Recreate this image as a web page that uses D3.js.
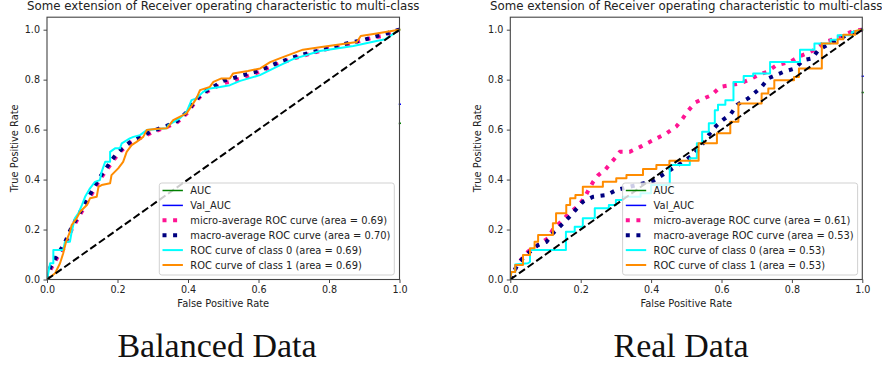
<!DOCTYPE html>
<html><head><meta charset="utf-8">
<script src="https://cdn.jsdelivr.net/npm/d3@7/dist/d3.min.js"></script>
<style>
body{margin:0;background:#fff}
svg{display:block}
text{font-family:"DejaVu Sans",sans-serif;fill:#222}
</style>
</head><body>
<svg id="c" width="882" height="365"></svg>
<script>
// ---------- text ----------
const titleText = "Some extension of Receiver operating characteristic to multi-class";
const xLabel = "False Positive Rate";
const yLabel = "True Positive Rate";
const captions = ["Balanced Data", "Real Data"];
const xTicks = [0, 0.2, 0.4, 0.6, 0.8, 1.0];
const yTicks = [0, 0.2, 0.4, 0.6, 0.8, 1.0];
const legendBalanced = ["AUC", "Val_AUC",
  "micro-average ROC curve (area = 0.69)", "macro-average ROC curve (area = 0.70)",
  "ROC curve of class 0 (area = 0.69)", "ROC curve of class 1 (area = 0.69)"];
const legendReal = ["AUC", "Val_AUC",
  "micro-average ROC curve (area = 0.61)", "macro-average ROC curve (area = 0.53)",
  "ROC curve of class 0 (area = 0.53)", "ROC curve of class 1 (area = 0.53)"];

// ---------- training AUC history (x = epoch) ----------
const epochs = [1, 2];
const balAuc = [0.625, 0.64];
const balValAuc = [0.702, 0.70];
const realAuc = [0.749, 0.75];
const realValAuc = [0.814, 0.81];

// ---------- ROC curves, [fpr, tpr] ----------
const balMicro = [[0,0],[0.01,0.04],[0.03,0.09],[0.05,0.13],[0.07,0.2],[0.09,0.25],[0.11,0.3],[0.13,0.35],[0.15,0.4],[0.17,0.44],[0.19,0.48],[0.21,0.515],[0.24,0.55],[0.27,0.57],[0.3,0.59],[0.34,0.61],[0.37,0.63],[0.4,0.67],[0.42,0.71],[0.44,0.74],[0.47,0.765],[0.5,0.785],[0.55,0.805],[0.6,0.83],[0.65,0.86],[0.7,0.885],[0.75,0.905],[0.8,0.925],[0.85,0.94],[0.9,0.96],[0.95,0.975],[1,1]];
const balMacro = [[0,0],[0.01,0.05],[0.03,0.1],[0.05,0.145],[0.07,0.21],[0.09,0.26],[0.11,0.31],[0.13,0.36],[0.15,0.41],[0.17,0.45],[0.19,0.49],[0.21,0.52],[0.24,0.555],[0.27,0.575],[0.3,0.595],[0.34,0.615],[0.37,0.635],[0.4,0.675],[0.42,0.715],[0.44,0.745],[0.47,0.77],[0.5,0.795],[0.55,0.815],[0.6,0.835],[0.65,0.865],[0.7,0.89],[0.75,0.91],[0.8,0.925],[0.85,0.945],[0.9,0.96],[0.95,0.98],[1,1]];
const balClass0 = [[0,0],[0.009,0.065],[0.018,0.065],[0.018,0.118],[0.046,0.118],[0.051,0.151],[0.065,0.151],[0.07,0.191],[0.079,0.245],[0.089,0.265],[0.099,0.298],[0.108,0.331],[0.122,0.365],[0.136,0.391],[0.15,0.398],[0.155,0.431],[0.165,0.471],[0.179,0.471],[0.179,0.511],[0.193,0.525],[0.207,0.525],[0.212,0.545],[0.235,0.565],[0.245,0.571],[0.264,0.578],[0.283,0.598],[0.339,0.605],[0.344,0.618],[0.377,0.645],[0.396,0.671],[0.41,0.718],[0.424,0.725],[0.443,0.751],[0.462,0.765],[0.491,0.771],[0.519,0.778],[0.548,0.795],[0.604,0.818],[0.65,0.85],[0.698,0.882],[0.774,0.915],[0.869,0.935],[0.935,0.955],[0.96,0.962],[1,1]];
const balClass1 = [[0,0],[0.023,0.025],[0.037,0.065],[0.046,0.105],[0.054,0.151],[0.065,0.191],[0.07,0.218],[0.084,0.245],[0.094,0.271],[0.113,0.298],[0.122,0.325],[0.141,0.331],[0.146,0.371],[0.155,0.378],[0.179,0.385],[0.183,0.418],[0.202,0.445],[0.216,0.471],[0.226,0.511],[0.24,0.538],[0.254,0.551],[0.273,0.571],[0.283,0.598],[0.306,0.602],[0.34,0.605],[0.358,0.638],[0.396,0.665],[0.41,0.695],[0.424,0.725],[0.434,0.758],[0.462,0.771],[0.472,0.791],[0.495,0.805],[0.519,0.805],[0.528,0.825],[0.57,0.835],[0.605,0.845],[0.633,0.87],[0.66,0.885],[0.726,0.92],[0.774,0.93],[0.879,0.951],[0.89,0.975],[0.935,0.985],[1,1]];

const realMicro = [[0,0],[0.022,0.065],[0.05,0.111],[0.08,0.14],[0.107,0.165],[0.121,0.2],[0.147,0.235],[0.164,0.262],[0.19,0.291],[0.21,0.325],[0.221,0.355],[0.235,0.39],[0.25,0.418],[0.27,0.44],[0.283,0.462],[0.3,0.49],[0.311,0.511],[0.339,0.511],[0.369,0.531],[0.406,0.558],[0.444,0.585],[0.472,0.613],[0.49,0.645],[0.505,0.675],[0.525,0.708],[0.55,0.725],[0.572,0.738],[0.596,0.771],[0.625,0.778],[0.652,0.785],[0.676,0.798],[0.704,0.818],[0.729,0.831],[0.757,0.858],[0.795,0.871],[0.818,0.891],[0.843,0.905],[0.862,0.918],[0.894,0.951],[0.92,0.962],[0.946,0.978],[0.975,0.995],[1,1]];
const realMacro = [[0,0],[0.022,0.065],[0.045,0.098],[0.079,0.138],[0.103,0.151],[0.121,0.185],[0.145,0.218],[0.168,0.251],[0.206,0.311],[0.235,0.331],[0.273,0.338],[0.301,0.358],[0.358,0.378],[0.406,0.395],[0.434,0.42],[0.462,0.445],[0.491,0.471],[0.52,0.5],[0.545,0.54],[0.567,0.585],[0.585,0.615],[0.605,0.64],[0.625,0.66],[0.645,0.7],[0.676,0.725],[0.714,0.771],[0.733,0.805],[0.776,0.831],[0.808,0.845],[0.833,0.878],[0.857,0.885],[0.875,0.918],[0.9,0.938],[0.927,0.958],[0.955,0.978],[1,1]];
const realClass0 = [[0,0],[0.003,0.03],[0.014,0.03],[0.014,0.06],[0.05,0.065],[0.056,0.071],[0.056,0.118],[0.158,0.118],[0.158,0.191],[0.183,0.191],[0.183,0.211],[0.206,0.211],[0.206,0.245],[0.24,0.245],[0.24,0.285],[0.28,0.285],[0.28,0.298],[0.3,0.298],[0.3,0.318],[0.32,0.318],[0.32,0.331],[0.37,0.331],[0.37,0.345],[0.4,0.345],[0.4,0.378],[0.453,0.378],[0.453,0.458],[0.51,0.458],[0.51,0.485],[0.53,0.485],[0.53,0.545],[0.545,0.545],[0.545,0.591],[0.564,0.591],[0.564,0.625],[0.581,0.625],[0.581,0.678],[0.59,0.678],[0.59,0.7],[0.611,0.7],[0.611,0.718],[0.634,0.718],[0.634,0.791],[0.663,0.791],[0.663,0.815],[0.69,0.815],[0.69,0.825],[0.738,0.825],[0.738,0.871],[0.823,0.871],[0.823,0.92],[0.864,0.92],[0.864,0.945],[0.91,0.945],[0.91,0.96],[0.93,0.96],[0.93,0.978],[0.97,0.978],[0.97,0.99],[1,1]];
const realClass1 = [[0,0],[0.003,0.03],[0.014,0.03],[0.014,0.058],[0.036,0.058],[0.036,0.098],[0.056,0.098],[0.056,0.125],[0.069,0.125],[0.069,0.151],[0.079,0.151],[0.079,0.178],[0.121,0.178],[0.121,0.225],[0.13,0.225],[0.13,0.265],[0.159,0.265],[0.159,0.298],[0.17,0.298],[0.17,0.325],[0.185,0.325],[0.185,0.338],[0.206,0.338],[0.206,0.371],[0.263,0.371],[0.263,0.391],[0.301,0.391],[0.301,0.405],[0.33,0.405],[0.33,0.418],[0.377,0.418],[0.377,0.442],[0.415,0.442],[0.415,0.458],[0.452,0.458],[0.452,0.475],[0.535,0.475],[0.535,0.545],[0.587,0.545],[0.587,0.585],[0.625,0.585],[0.625,0.631],[0.648,0.631],[0.648,0.705],[0.714,0.705],[0.714,0.745],[0.733,0.745],[0.733,0.765],[0.75,0.765],[0.75,0.798],[0.806,0.798],[0.806,0.811],[0.82,0.811],[0.82,0.845],[0.885,0.845],[0.885,0.945],[0.93,0.945],[0.93,0.962],[0.946,0.962],[0.946,0.98],[0.98,0.98],[0.98,0.995],[1,1]];
const diagonal = [[0,0],[1,1]];

// ---------- styles ----------
const styles = {
  auc:   {color:"#008000", width:1.5, dash:null},
  val:   {color:"#0000ff", width:1.5, dash:null},
  micro: {color:"#ff1493", width:4, dash:"4 6.6"},
  macro: {color:"#000080", width:4, dash:"4 6.6"},
  c0:    {color:"#00ffff", width:2, dash:null},
  c1:    {color:"#ff8c00", width:2, dash:null},
  diag:  {color:"#000000", width:2, dash:"7.4 3.2"}
};
const legendKeys = ["auc","val","micro","macro","c0","c1"];

const panels = [
  {x0:47, x1:399.5, capX:217, legend:legendBalanced,
   auc:balAuc, val:balValAuc, micro:balMicro, macro:balMacro, c0:balClass0, c1:balClass1},
  {x0:510.3, x1:862.3, capX:681, legend:legendReal,
   auc:realAuc, val:realValAuc, micro:realMicro, macro:realMacro, c0:realClass0, c1:realClass1}
];

const svg = d3.select("#c");
const yTop = 17.2, yBot = 279.5;
const fs = 9.9;

panels.forEach((p, i) => {
  const x = d3.scaleLinear().domain([0, 1]).range([p.x0, p.x1]);
  const y = d3.scaleLinear().domain([0, 1.05]).range([yBot, yTop]);
  const g = svg.append("g");
  const clipId = "clip" + i;
  svg.append("defs").append("clipPath").attr("id", clipId)
    .append("rect").attr("x", p.x0).attr("y", yTop).attr("width", p.x1 - p.x0 + 1.5).attr("height", yBot - yTop);

  const line = d3.line().x(d => x(d[0])).y(d => y(d[1]));
  const plot = g.append("g").attr("clip-path", `url(#${clipId})`);

  function draw(data, st) {
    const path = plot.append("path").datum(data).attr("d", line)
      .attr("fill", "none").attr("stroke", st.color).attr("stroke-width", st.width)
      .attr("stroke-linejoin", "round");
    if (st.dash) path.attr("stroke-dasharray", st.dash).attr("stroke-linecap", "butt");
    else path.attr("stroke-linecap", "square");
  }
  draw(epochs.map((e, k) => [e, p.auc[k]]), styles.auc);
  draw(epochs.map((e, k) => [e, p.val[k]]), styles.val);
  draw(p.micro, styles.micro);
  draw(p.macro, styles.macro);
  draw(p.c0, styles.c0);
  draw(p.c1, styles.c1);
  draw(diagonal, styles.diag);

  // axes
  const xa = g.append("g").attr("transform", `translate(0,${yBot})`)
    .call(d3.axisBottom(x).tickValues(xTicks).tickFormat(d3.format(".1f")).tickSizeOuter(0).tickSize(3.5).tickPadding(3.5));
  const ya = g.append("g").attr("transform", `translate(${p.x0},0)`)
    .call(d3.axisLeft(y).tickValues(yTicks).tickFormat(d3.format(".1f")).tickSizeOuter(0).tickSize(3.5).tickPadding(3.5));
  [xa, ya].forEach(a => {
    a.select(".domain").remove();
    a.selectAll(".tick line").attr("stroke", "#333").attr("stroke-width", 0.9);
    a.selectAll(".tick text").attr("font-family", "DejaVu Sans").attr("font-size", 9.6).style("fill", "#222");
  });

  // frame
  g.append("rect").attr("x", p.x0).attr("y", yTop).attr("width", p.x1 - p.x0).attr("height", yBot - yTop)
    .attr("fill", "none").attr("stroke", "#444").attr("stroke-width", 1.1);

  // titles
  const cx = (p.x0 + p.x1) / 2;
  g.append("text").attr("x", cx).attr("y", 10.3).attr("text-anchor", "middle")
    .attr("font-size", 11.8).text(titleText);
  g.append("text").attr("x", cx).attr("y", 307).attr("text-anchor", "middle")
    .attr("font-size", fs).text(xLabel);
  g.append("text").attr("transform", `translate(${p.x0 - 29.5},${(yTop + yBot) / 2}) rotate(-90)`)
    .attr("text-anchor", "middle").attr("font-size", fs).text(yLabel);

  // legend
  const lx = p.x0 + 112.3, lw = 235, ly = 183, lh = 92;
  const lg = g.append("g");
  lg.append("rect").attr("x", lx).attr("y", ly).attr("width", lw).attr("height", lh)
    .attr("rx", 2.5).attr("fill", "#fff").attr("fill-opacity", 0.8)
    .attr("stroke", "#cccccc").attr("stroke-width", 0.9);
  legendKeys.forEach((k, j) => {
    const st = styles[k];
    const yy = ly + 7.5 + j * 14.9;
    const hl = lg.append("line").attr("x1", lx + 3.2).attr("x2", lx + 23.6).attr("y1", yy).attr("y2", yy)
      .attr("stroke", st.color).attr("stroke-width", st.width);
    if (st.dash) hl.attr("stroke-dasharray", st.dash);
    lg.append("text").attr("x", lx + 31).attr("y", yy + 3.5).attr("font-size", fs).text(p.legend[j]);
  });

  // caption
  svg.append("text").attr("x", p.capX).attr("y", 357).attr("text-anchor", "middle")
    .style("font-family", "'Liberation Serif', serif").attr("font-size", 34).style("fill", "#111")
    .text(captions[i]);
});
</script>
</body></html>
